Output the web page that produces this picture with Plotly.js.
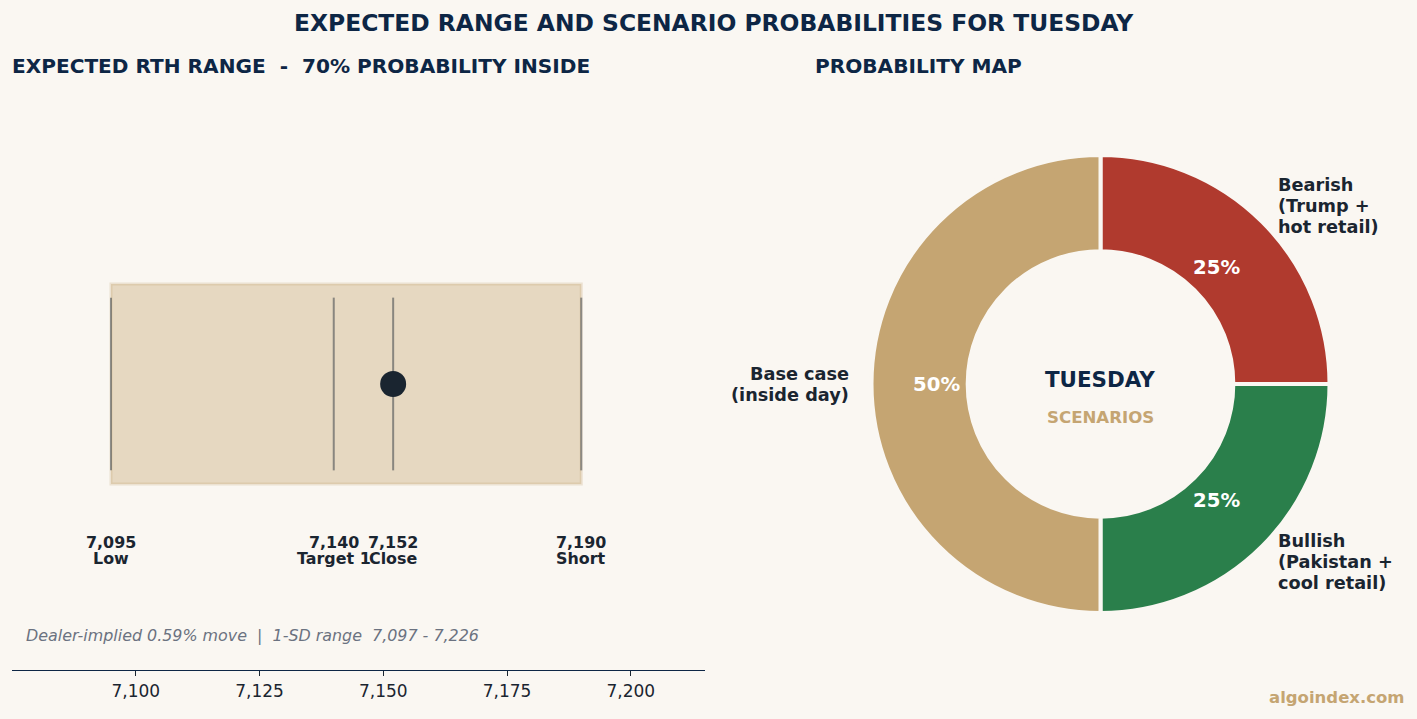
<!DOCTYPE html>
<html><head><meta charset="utf-8">
<script src="https://cdn.plot.ly/plotly-3.0.1.min.js"></script>
<style>html,body{margin:0;padding:0;background:#FAF7F2}</style></head>
<body><div id="chart" style="width:1417px;height:719px"></div>
<script>
const rangeLow = 7095;
const rangeHigh = 7190;
const closeLevel = 7152;
const levelValues = [7095, 7140, 7152, 7190];
const levelPrices = ['7,095', '7,140', '7,152', '7,190'];
const levelNames = ['Low', 'Target 1', 'Close', 'Short'];
const tickValues = [7100, 7125, 7150, 7175, 7200];
const tickLabels = ['7,100', '7,125', '7,150', '7,175', '7,200'];
const scenarioNames = ['Bearish', 'Bullish', 'Base case'];
const scenarioValues = [25, 25, 50];
const scenarioColors = ['#B03A2E', '#2A7F4B', '#C5A572'];

const W = 1417, H = 719;
const BG = '#FAF7F2', NAVY = '#0D2645', INK = '#1A2530', TAN = '#C5A572';
const FONT = '"DejaVu Sans", sans-serif';
const px = v => v / W, py = v => 1 - v / H;

const annotations = [];
function txt(text, x, y, size, color, opts) {
  opts = opts || {};
  annotations.push({
    xref: 'paper', yref: 'paper', x: px(x), y: py(y), text: opts.italic ? '<i>' + text + '</i>' : '<b>' + text + '</b>',
    showarrow: false, xanchor: opts.anchor || 'center', yanchor: 'middle', align: opts.anchor || 'center',
    font: {family: FONT, size: size, color: color}, borderpad: 0, borderwidth: 0
  });
}
// titles
txt('EXPECTED RANGE AND SCENARIO PROBABILITIES FOR TUESDAY', 714, 23, 23.4, NAVY);
txt('EXPECTED RTH RANGE  -  70% PROBABILITY INSIDE', 12, 66, 20.1, NAVY, {anchor: 'left'});
txt('PROBABILITY MAP', 918, 66, 20.1, NAVY);
// level labels, in data x
levelValues.forEach((v, i) => {
  [[levelPrices[i], 542], [levelNames[i], 558.5]].forEach(([t, y]) => {
    annotations.push({xref: 'x', yref: 'paper', x: v, y: py(y), text: '<b>' + t + '</b>', showarrow: false,
      xanchor: 'center', yanchor: 'middle', borderpad: 0, font: {family: FONT, size: 15.9, color: INK}});
  });
});
txt('Dealer-implied 0.59% move  |  1-SD range  7,097 - 7,226', 26, 635.5, 15.9, '#6B7280', {anchor: 'left', italic: true});
// donut centre and labels
txt('TUESDAY', 1100, 379, 21.4, NAVY);
txt('SCENARIOS', 1100, 417, 16.6, TAN);
[['Bearish', 185], ['(Trump +', 206], ['hot retail)', 227]].forEach(([t, y]) => txt(t, 1278, y, 17.7, INK, {anchor: 'left'}));
[['Bullish', 541], ['(Pakistan +', 562], ['cool retail)', 583]].forEach(([t, y]) => txt(t, 1278, y, 17.7, INK, {anchor: 'left'}));
[['Base case', 374], ['(inside day)', 395]].forEach(([t, y]) => txt(t, 849, y, 17.7, INK, {anchor: 'right'}));
txt('algoindex.com', 1405, 697.5, 16.5, TAN, {anchor: 'right'});
// percentages on the ring, placed from the slice values
let cum = 0;
const total = scenarioValues.reduce((a, b) => a + b, 0);
scenarioValues.forEach(v => {
  const a = (cum + v / 2) / total * 2 * Math.PI;
  cum += v;
  txt(Math.round(v / total * 100) + '%', 1100.5 + 164.5 * Math.sin(a), 384 - 164.5 * Math.cos(a), 19.7, '#FFFFFF');
});

const levelX = levelValues.flatMap(v => [v, v, null]);
const levelY = levelValues.flatMap(() => [-0.302, 0.302, null]);

const data = [
  {type: 'scatter', mode: 'lines', x: levelX, y: levelY, xaxis: 'x', yaxis: 'y',
   line: {color: '#1A2530', width: 2}, opacity: 0.45, hoverinfo: 'skip', showlegend: false},
  {type: 'scatter', mode: 'markers', x: [closeLevel], y: [0], xaxis: 'x', yaxis: 'y',
   marker: {color: INK, size: 26, line: {width: 0}}, hoverinfo: 'skip', showlegend: false},
  {type: 'pie', labels: scenarioNames, values: scenarioValues, sort: false, direction: 'clockwise', rotation: 0,
   hole: 0.58, textinfo: 'none', showlegend: false, hoverinfo: 'skip',
   marker: {colors: scenarioColors, line: {color: BG, width: 4}},
   domain: {x: [px(1100.5 - 229), px(1100.5 + 229)], y: [py(384 + 229), py(384 - 229)]}}
];

const layout = {
  width: W, height: H, paper_bgcolor: BG, plot_bgcolor: BG,
  margin: {l: 0, r: 0, t: 0, b: 0}, autosize: false, showlegend: false,
  font: {family: FONT, color: INK},
  xaxis: {domain: [px(12), px(705)], range: [7075, 7215], tickmode: 'array', tickvals: tickValues, ticktext: tickLabels,
    showgrid: false, zeroline: false, showline: true, linecolor: NAVY, linewidth: 1.3,
    ticks: 'outside', ticklen: 5, tickwidth: 1, tickcolor: INK, tickfont: {family: FONT, size: 17, color: INK}, anchor: 'y'},
  yaxis: {domain: [py(670), py(98)], range: [-1, 1], visible: false, fixedrange: true, anchor: 'x'},
  shapes: [{type: 'rect', xref: 'x', yref: 'y', x0: rangeLow, x1: rangeHigh, y0: -0.35, y1: 0.35, layer: 'below',
    fillcolor: 'rgba(196,165,114,0.38)', line: {color: 'rgba(196,165,114,0.25)', width: 3}}],
  annotations: annotations
};
Plotly.newPlot('chart', data, layout, {displayModeBar: false, staticPlot: true});
</script></body></html>
